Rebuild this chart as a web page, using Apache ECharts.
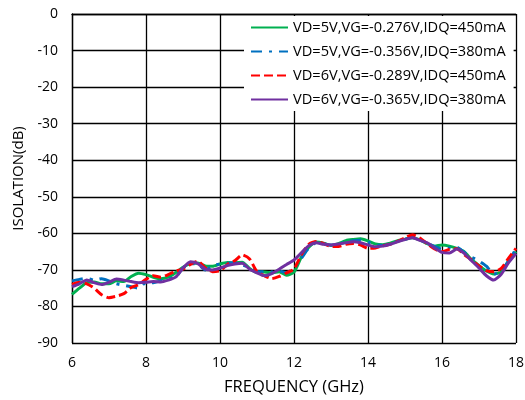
<!DOCTYPE html>
<html>
<head>
<meta charset="utf-8">
<script src="https://cdn.jsdelivr.net/npm/echarts@6/dist/echarts.min.js"></script>
<style>
  html, body { margin: 0; padding: 0; background: #fff; }
  #chart { width: 525px; height: 400px; }
</style>
</head>
<body>
<div id="chart"></div>
<script>
// Frequency points (GHz), 0.2 GHz step
const freq = [];
for (let i = 0; i <= 60; i++) freq.push(+(6 + i * 0.2).toFixed(1));

// Isolation (dB) for each bias condition
const iso5v450 = [
  -76.7, -75.0, -73.5, -73.3, -73.8, -73.8, -73.0, -73.2, -71.8, -70.9,
  -71.3, -72.0, -72.4, -72.0, -70.8, -69.3, -68.3, -68.1, -68.9, -69.0,
  -68.4, -68.0, -68.1, -67.9, -69.6, -70.7, -70.6, -70.8, -70.5, -71.5,
  -70.6, -66.5, -63.8, -62.4, -62.7, -63.3, -62.8, -62.0, -61.7, -61.5,
  -62.1, -62.9, -63.1, -62.7, -62.0, -61.6, -61.2, -61.8, -62.8, -63.5,
  -63.2, -63.5, -64.1, -65.0, -67.2, -68.8, -70.3, -71.1, -70.6, -67.5,
  -65.0
];
const iso5v380 = [
  -73.0, -72.6, -72.3, -72.8, -72.4, -73.0, -73.8, -74.2, -74.6, -75.0,
  -73.4, -73.5, -73.0, -72.5, -72.0, -69.5, -68.3, -68.4, -70.0, -68.9,
  -68.4, -68.2, -68.0, -68.6, -69.4, -70.4, -70.5, -70.6, -70.3, -70.8,
  -69.5, -66.8, -64.0, -62.6, -62.8, -63.2, -63.0, -62.4, -62.0, -61.9,
  -62.4, -63.2, -63.3, -62.8, -62.2, -61.7, -61.0, -61.8, -62.7, -63.6,
  -64.3, -64.0, -63.8, -65.2, -66.5, -67.6, -69.0, -71.2, -70.2, -67.6,
  -64.2
];
const iso6v450 = [
  -74.0, -73.4, -73.8, -75.0, -76.8, -77.6, -77.2, -76.5, -74.8, -74.0,
  -72.6, -71.6, -72.0, -71.3, -70.3, -69.8, -68.5, -67.6, -69.4, -70.5,
  -70.2, -68.5, -67.5, -65.9, -67.0, -70.5, -71.6, -72.4, -71.8, -70.8,
  -69.8, -65.8, -63.0, -62.2, -62.8, -63.6, -63.6, -63.0, -62.8, -63.2,
  -64.1, -64.0, -63.4, -63.0, -62.2, -61.2, -60.4, -61.3, -62.8, -64.3,
  -65.0, -64.4, -64.2, -65.8, -67.3, -68.9, -70.2, -70.5, -69.6, -66.8,
  -64.1
];
const iso6v380 = [
  -74.6, -73.8, -72.8, -73.5, -74.0, -73.4, -72.5, -72.8, -73.2, -73.5,
  -73.4, -73.2, -73.3, -72.8, -72.0, -69.5, -67.8, -68.3, -69.8, -70.0,
  -69.5, -68.8, -68.4, -68.2, -69.8, -70.8, -71.6, -71.0, -69.8, -68.5,
  -67.3, -65.3, -63.4, -62.6, -63.0, -63.2, -62.9, -62.6, -62.3, -62.6,
  -63.2, -63.7, -63.5, -63.0, -62.3, -61.7, -61.2, -61.9, -62.6, -64.0,
  -65.2, -65.4, -64.3, -65.5, -67.5, -69.5, -71.6, -72.8, -71.2, -68.0,
  -65.5
];

const seriesNames = [
  'VD=5V,VG=-0.276V,IDQ=450mA',
  'VD=5V,VG=-0.356V,IDQ=380mA',
  'VD=6V,VG=-0.289V,IDQ=450mA',
  'VD=6V,VG=-0.365V,IDQ=380mA'
];

const FONT = 'Open Sans';
const pair = (ys) => freq.map((f, i) => [f, ys[i]]);

const styles = [
  { color: '#00B050', type: 'solid' },
  { color: '#0070C0', type: [11, 7, 3, 7] },
  { color: '#FF0000', type: [9, 4] },
  { color: '#7030A0', type: 'solid' }
];
const values = [iso5v450, iso5v380, iso6v450, iso6v380];

const chart = echarts.init(document.getElementById('chart'), null, { renderer: 'canvas' });
chart.setOption({
  animation: false,
  backgroundColor: '#fff',
  grid: { left: 72, right: 9, top: 14, bottom: 57, containLabel: false, outerBoundsMode: 'none' },
  legend: {
    orient: 'vertical',
    left: 244,
    top: 16,
    padding: [4, 8, 4, 6],
    backgroundColor: '#fff',
    itemWidth: 37,
    itemHeight: 14,
    itemGap: 9,
    itemStyle: { opacity: 0 },
    textStyle: { fontFamily: FONT, fontSize: 14.6, color: '#000' },
    data: seriesNames
  },
  xAxis: {
    type: 'value',
    min: 6, max: 18, interval: 2,
    name: 'FREQUENCY (GHz)',
    nameLocation: 'middle',
    nameGap: 36,
    nameTextStyle: { fontFamily: FONT, fontSize: 16.5, color: '#000' },
    axisLine: { show: true, lineStyle: { color: '#000', width: 1.3 } },
    axisTick: { show: false },
    axisLabel: { fontFamily: FONT, fontSize: 14, color: '#000', margin: 13 },
    splitLine: { show: true, lineStyle: { color: '#000', width: 1.3 } }
  },
  yAxis: {
    type: 'value',
    min: -90, max: 0, interval: 10,
    name: 'ISOLATION(dB)',
    nameLocation: 'middle',
    nameGap: 44,
    nameTextStyle: { fontFamily: FONT, fontSize: 15, color: '#000' },
    axisLine: { show: true, lineStyle: { color: '#000', width: 1.3 } },
    axisTick: { show: false },
    axisLabel: { fontFamily: FONT, fontSize: 14, color: '#000', margin: 14 },
    splitLine: { show: true, lineStyle: { color: '#000', width: 1.3 } }
  },
  series: seriesNames.map((name, k) => ({
    name,
    type: 'line',
    data: pair(values[k]),
    symbol: 'none',
    smooth: 0.2,
    color: styles[k].color,
    lineStyle: { color: styles[k].color, width: 3, type: styles[k].type }
  }))
});
</script>
</body>
</html>
